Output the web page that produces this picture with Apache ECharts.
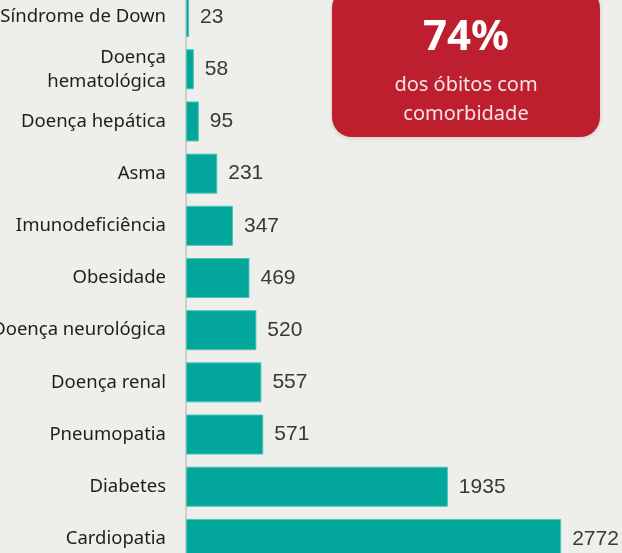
<!DOCTYPE html>
<html>
<head>
<meta charset="utf-8">
<script src="https://cdn.jsdelivr.net/npm/echarts@6/dist/echarts.min.js"></script>
<style>
  html, body { margin: 0; padding: 0; background: #eeeeea; }
  #chart { width: 622px; height: 553px; }
</style>
</head>
<body>
<div id="chart"></div>
<script>
  // comorbidades, de cima para baixo
  const categories = [
    'Síndrome de Down', 'Doença\nhematológica', 'Doença hepática', 'Asma',
    'Imunodeficiência', 'Obesidade', 'Doença neurológica', 'Doença renal',
    'Pneumopatia', 'Diabetes', 'Cardiopatia'
  ]
  const values = [23, 58, 95, 231, 347, 469, 520, 557, 571, 1935, 2772]
  const destaque = '74%'
  const destaqueTexto = 'dos óbitos com\ncomorbidade'

  const chart = echarts.init(document.getElementById('chart'))
  chart.setOption({
    backgroundColor: '#eeeeea',
    animation: false,
    grid: {
      left: 186,
      right: 30,
      top: -9,
      bottom: -12,
      outerBoundsMode: 'none',
      containLabel: false
    },
    xAxis: {
      type: 'value',
      min: 0,
      max: 3000,
      show: false
    },
    yAxis: {
      type: 'category',
      inverse: true,
      data: categories,
      axisTick: { show: false },
      axisLine: {
        show: true,
        lineStyle: { color: '#cfcfcc', width: 2 }
      },
      axisLabel: {
        margin: 20,
        color: '#1e1e1e',
        fontFamily: 'Noto Sans',
        fontSize: 18.5,
        lineHeight: 24,
        align: 'right'
      }
    },
    series: [{
      type: 'bar',
      data: values,
      barWidth: 40,
      itemStyle: {
        color: '#02a69b',
        borderColor: '#4cc4bb',
        borderWidth: 1
      },
      label: {
        show: true,
        position: 'right',
        distance: 11,
        color: '#383838',
        fontFamily: 'Liberation Sans',
        fontSize: 21
      }
    }],
    graphic: [{
      type: 'rect',
      shape: { x: 332, y: -12, width: 268, height: 149, r: 20 },
      style: {
        fill: '#bd1f2f',
        shadowBlur: 4,
        shadowColor: 'rgba(0,0,0,0.15)',
        shadowOffsetY: 1
      }
    }, {
      type: 'text',
      style: {
        x: 466,
        y: 38,
        text: destaque,
        fill: '#ffffff',
        font: 'bold 42px "Noto Sans"',
        align: 'center',
        verticalAlign: 'middle'
      }
    }, {
      type: 'text',
      style: {
        x: 466,
        y: 100,
        text: destaqueTexto,
        fill: '#f6e4e5',
        font: '20px "Noto Sans"',
        lineHeight: 29,
        align: 'center',
        verticalAlign: 'middle'
      }
    }]
  })
</script>
</body>
</html>
